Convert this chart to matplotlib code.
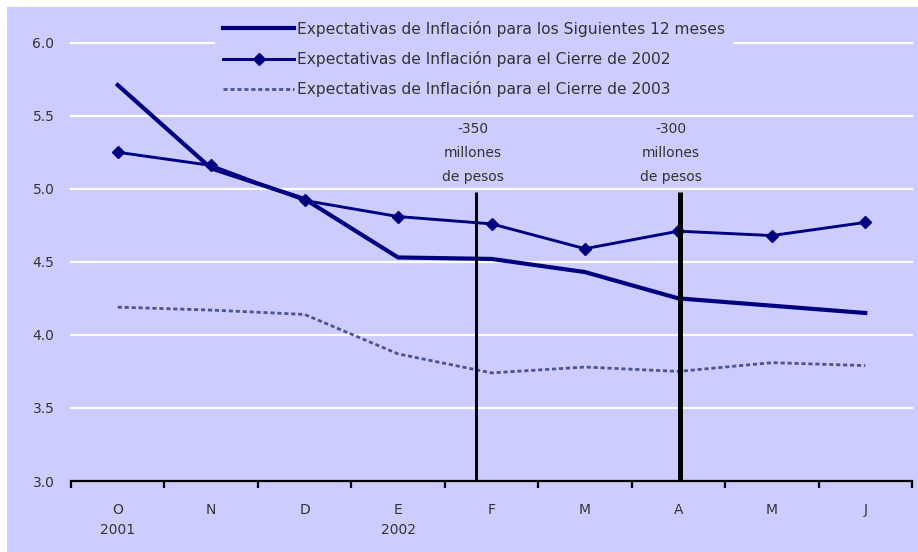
import matplotlib
matplotlib.use("Agg")
import matplotlib.pyplot as plt
from matplotlib.patches import Rectangle
from matplotlib.transforms import blended_transform_factory

# ---- data ----
months = ["O", "N", "D", "E", "F", "M", "A", "M", "J"]
years = ["2001", "", "", "2002", "", "", "", "", ""]
s_12m = [5.71, 5.14, 4.93, 4.53, 4.52, 4.43, 4.25, 4.20, 4.15]
s_2002 = [5.25, 5.16, 4.92, 4.81, 4.76, 4.59, 4.71, 4.68, 4.77]
s_2003 = [4.19, 4.17, 4.14, 3.87, 3.74, 3.78, 3.75, 3.81, 3.79]
labels = ["Expectativas de Inflación para los Siguientes 12 meses",
          "Expectativas de Inflación para el Cierre de 2002",
          "Expectativas de Inflación para el Cierre de 2003"]
event_x = [3.83, 6.02]
event_top = [4.98, 4.98]
event_lw = [2.2, 3.6]
event_text = ["-350\nmillones\nde pesos", "-300\nmillones\nde pesos"]
event_text_x = [3.80, 5.92]
yticks = [3.0, 3.5, 4.0, 4.5, 5.0, 5.5, 6.0]

BG = "#CCCCFF"
NAVY = "#000080"
DASH = "#4A5590"
TXT = "#333333"
FS = 10

plt.rcParams["font.family"] = ["DejaVu Sans"]
plt.rcParams["lines.scale_dashes"] = False

W, H = 918, 552
fig = plt.figure(figsize=(W / 100, H / 100), dpi=100, facecolor="white")
fig.patches.append(Rectangle((7 / W, 0), 1 - 7 / W, 1 - 7 / H, transform=fig.transFigure,
                             facecolor=BG, edgecolor="none", zorder=-10))

ax = fig.add_axes([71 / W, (H - 481) / H, (912 - 71) / W, (481 - 42.7) / H])
ax.set_facecolor(BG)
ax.patch.set_alpha(0)

x = list(range(len(months)))
ax.set_xlim(-0.5, len(months) - 0.5)
ax.set_ylim(3.0, 6.0)

for y in yticks[1:]:
    ax.axhline(y, color="white", lw=1.6, zorder=1, clip_on=False)

l1, = ax.plot(x, s_12m, color=NAVY, lw=3.0, zorder=4, solid_joinstyle="miter")
l2, = ax.plot(x, s_2002, color=NAVY, lw=2.1, marker="D", ms=6, zorder=4)
l3, = ax.plot(x, s_2003, color=DASH, lw=2.0, dashes=(3, 2), zorder=3)

for ex, top, lw in zip(event_x, event_top, event_lw):
    ax.vlines(ex, 3.0, top, color="black", lw=lw, zorder=5)
for tx, t in zip(event_text_x, event_text):
    ax.text(tx, 5.245, t, ha="center", va="center", fontsize=FS, color=TXT,
            linespacing=1.9, zorder=6)

for s in ["left", "right", "top"]:
    ax.spines[s].set_visible(False)
ax.spines["bottom"].set_linewidth(1.6)
ax.spines["bottom"].set_color("black")
ax.spines["bottom"].set_zorder(6)

ax.set_yticks(yticks)
ax.set_yticklabels([f"{v:.1f}" for v in yticks], fontsize=FS, color=TXT)
ax.tick_params(axis="y", length=0, pad=12)

bounds = [i - 0.5 for i in range(len(months) + 1)]
ax.set_xticks(bounds)
ax.set_xticklabels([])
ax.tick_params(axis="x", which="major", length=5, width=1.6, color="black", direction="out")
ax.set_xticks(x, minor=True)
ax.set_xticklabels(months, minor=True, fontsize=FS, color=TXT)
ax.tick_params(axis="x", which="minor", length=0, pad=16)

tr = blended_transform_factory(ax.transData, fig.transFigure)
for i, yr in enumerate(years):
    if yr:
        ax.text(i, (H - 530) / H, yr, transform=tr, ha="center", va="center",
                fontsize=FS, color=TXT)

leg = fig.legend([l1, l2, l3], labels, loc="upper left",
                 bbox_to_anchor=(215 / W, 1 - 13 / H), bbox_transform=fig.transFigure,
                 frameon=True, facecolor=BG, edgecolor="none", framealpha=1,
                 fontsize=11.2, handlelength=4.6, handletextpad=0.2,
                 labelspacing=0.92, borderpad=0.5, borderaxespad=0, fancybox=False)
for t in leg.get_texts():
    t.set_color(TXT)
leg.set_zorder(7)

fig.savefig("out.png", dpi=100, facecolor="white")
